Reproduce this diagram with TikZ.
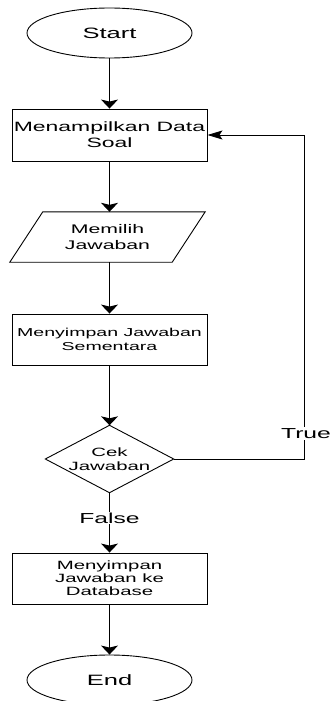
\documentclass[tikz,border=0pt]{standalone}
\usepackage{fontspec}
\setmainfont[FakeStretch=1.7]{Liberation Sans}
\usetikzlibrary{shapes.geometric,arrows.meta,calc}
\begin{document}
\begin{tikzpicture}[x=1pt,y=1pt,
  every node/.style={align=center,inner sep=0pt},
  terminal/.style={ellipse,draw,line width=0.9pt,minimum width=165,minimum height=50,font=\fontsize{15}{17}\selectfont},
  procbox/.style={rectangle,draw,line width=0.9pt,minimum width=195,minimum height=51},
  frame/.style={rectangle,minimum width=#1},
  outline/.style={line width=0.9pt},
  flow/.style={line width=1.1pt,-{Stealth[length=9pt,width=17pt,inset=2pt]}},
  flowh/.style={line width=0.9pt,-{Stealth[length=15pt,width=9pt,inset=3pt]}},
  branch/.style={fill=white,inner sep=1pt,font=\fontsize{14.5}{16}\selectfont}]
  \useasboundingbox (0,0) rectangle (332,-701);
  \clip (0,0) rectangle (332,-701);

  % nodes
  \node[terminal] (start) at (109.5,-33) {Start};
  \node[procbox,minimum height=52,font=\fontsize{13.5}{16}\selectfont] (show) at (109.5,-135) {Menampilkan Data\\Soal};
  \node[frame=162,minimum height=50,font=\fontsize{12.5}{16.5}\selectfont] (pick) at (107.5,-237) {Memilih\\Jawaban};
  \draw[outline] ($(pick.north west)+(16.5,0)$) -- ($(pick.north east)+(16.5,0)$)
     -- ($(pick.south east)+(-16.5,0)$) -- ($(pick.south west)+(-16.5,0)$) -- cycle;
  \node[procbox,font=\fontsize{11.5}{14}\selectfont] (temp) at (109.5,-339.5) {Menyimpan Jawaban\\Sementara};
  \node[frame=128,minimum height=67,font=\fontsize{12}{13.5}\selectfont] (check) at (109.5,-459) {Cek\\Jawaban};
  \draw[outline] (check.north) -- (check.east) -- (check.south) -- (check.west) -- cycle;
  \node[procbox,font=\fontsize{12}{13}\selectfont] (save) at (109.5,-578.5) {Menyimpan\\Jawaban ke\\Database};
  \node[terminal] (end) at (109.5,-680) {End};

  % connectors
  \draw[flow] (start) -- (show);
  \draw[flow] (show.south) -- (show.south |- pick.north);
  \draw[flow] (show.south |- pick.south) -- (temp.north);
  \draw[flow] (temp) -- (check.north);
  \coordinate (loopA) at (304,-459);
  \coordinate (loopB) at (304,-135);
  \draw[flowh] (check.east) -- (loopA) -- (loopB) -- (show.east);
  \node[branch] (true) at (306,-433.5) {True};
  \draw[flow] (check.south) -- (save.north);
  \node[branch] (false) at (109.5,-518) {False};
  \draw[flow] (save) -- (end);
\end{tikzpicture}
\end{document}
